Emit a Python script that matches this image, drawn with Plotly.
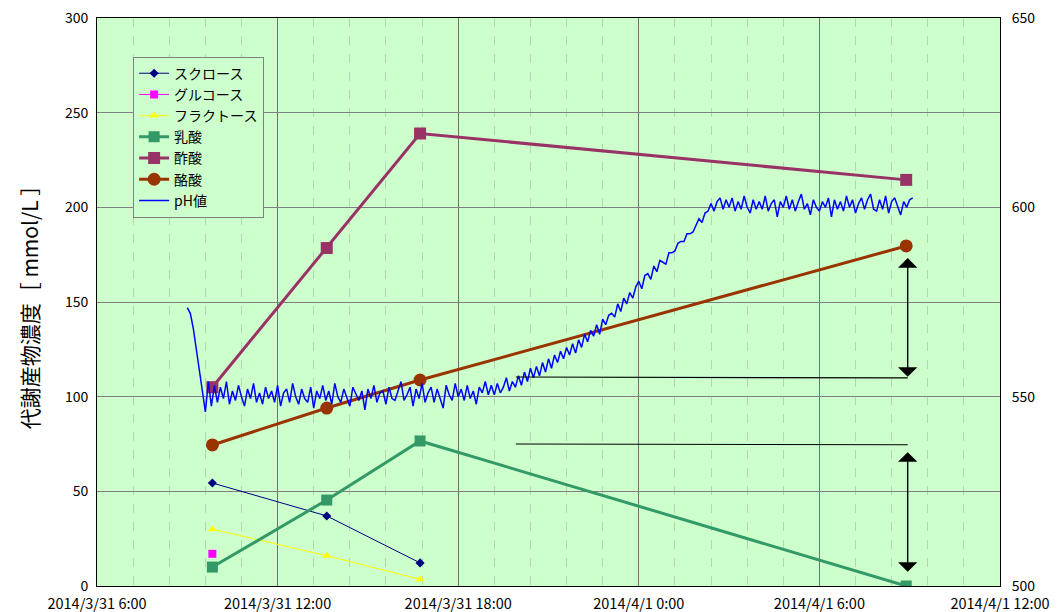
import pandas as pd
import plotly.graph_objects as go

# sampling times of the metabolite measurements
sample_times = ["2014-03-31 09:50", "2014-03-31 13:38", "2014-03-31 16:44", "2014-04-01 08:53"]

sucrose = [54.4, 37.0, 12.2]
glucose = [17.0]
fructose = [30.0, 16.0, 3.5]
lactic = [10.0, 45.4, 76.6, 0.0]
acetic = [105.0, 178.5, 239.0, 214.5]
butyric = [74.5, 94.0, 108.8, 179.6]

# pH logger (right axis), one reading every 6 minutes from 2014/3/31 9:00
ph_start = "2014-03-31 09:00"
ph_values = [
    573.5, 572.0, 568.0, 562.0, 556.0, 551.5, 546.0, 554.0, 547.5, 553.0,
    548.5, 552.5, 549.5, 554.0, 548.0, 551.5, 549.0, 553.0, 550.0, 547.5,
    552.0, 549.5, 553.5, 548.5, 551.0, 548.0, 552.5, 549.5, 551.5, 548.5,
    553.0, 547.5, 551.0, 552.0, 548.5, 553.5, 550.0, 548.0, 552.0, 549.5,
    548.5, 552.5, 547.0, 551.5, 549.5, 553.0, 549.0, 551.5, 548.0, 553.5,
    550.0, 548.5, 552.0, 549.5, 547.5, 552.5, 550.5, 549.0, 551.5, 546.5,
    552.0, 549.5, 553.0, 548.5, 551.0, 551.5, 548.0, 552.5, 549.5, 549.0,
    551.5, 554.0, 549.0, 550.5, 552.5, 547.5, 552.0, 549.5, 553.5, 548.5,
    551.0, 552.5, 548.5, 552.0, 549.5, 547.0, 553.0, 550.5, 549.0, 553.5,
    550.0, 552.0, 549.0, 553.0, 549.5, 551.5, 548.0, 552.5, 551.0, 554.0,
    550.5, 553.0, 550.5, 553.5, 551.0, 552.5, 555.0, 551.5, 554.0, 552.5,
    555.5, 553.0, 556.5, 554.0, 557.5, 555.0, 558.0, 555.5, 559.0, 556.5,
    560.0, 557.5, 561.0, 559.0, 562.0, 560.0, 563.0, 561.0, 564.0, 561.5,
    565.0, 563.0, 566.5, 564.5, 567.5, 566.0, 569.0, 566.5, 570.5, 569.0,
    571.5, 572.0, 571.0, 574.5, 572.5, 576.0, 574.5, 577.5, 576.0, 579.0,
    580.5, 578.5, 582.0, 582.5, 581.0, 584.5, 583.0, 586.0, 585.5, 585.0,
    588.0, 588.0, 588.5, 590.5, 591.0, 591.0, 593.0, 593.0, 593.5, 595.5,
    597.0, 596.0, 598.5, 599.0, 601.0, 599.0, 601.5, 602.5, 599.5, 602.0,
    600.0, 602.5, 599.0, 601.5, 599.5, 603.0, 600.0, 598.5, 602.0, 599.5,
    601.5, 599.5, 603.0, 599.0, 601.0, 602.0, 597.5, 601.5, 600.0, 603.0,
    599.5, 602.0, 599.0, 601.5, 603.5, 599.5, 601.0, 598.0, 602.0, 600.0,
    599.0, 601.5, 600.0, 602.5, 597.5, 602.0, 599.5, 601.5, 599.0, 603.0,
    600.0, 602.0, 598.5, 601.0, 602.5, 599.5, 602.0, 603.5, 599.5, 599.0,
    602.0, 599.5, 603.0, 598.5, 601.5, 602.5, 600.0, 598.0, 601.5, 600.0,
    602.0, 602.5,
]
ph_times = pd.date_range(ph_start, periods=len(ph_values), freq="6min")

x_ticks = ["2014-03-31 06:00", "2014-03-31 12:00", "2014-03-31 18:00",
           "2014-04-01 00:00", "2014-04-01 06:00", "2014-04-01 12:00"]
x_labels = ["2014/3/31 6:00", "2014/3/31 12:00", "2014/3/31 18:00",
            "2014/4/1 0:00", "2014/4/1 6:00", "2014/4/1 12:00"]

FONT = "Noto Sans CJK JP"

fig = go.Figure()

fig.add_trace(go.Scatter(x=sample_times[:3], y=sucrose, name="スクロース",
                         mode="lines+markers", line=dict(color="#000080", width=1),
                         marker=dict(symbol="diamond", size=7, color="#000080")))
fig.add_trace(go.Scatter(x=sample_times[:1], y=glucose, name="グルコース",
                         mode="lines+markers", line=dict(color="#FF00FF", width=1),
                         marker=dict(symbol="square", size=8, color="#FF00FF")))
fig.add_trace(go.Scatter(x=sample_times[:3], y=fructose, name="フラクトース",
                         mode="lines+markers", line=dict(color="#FFFF00", width=1),
                         marker=dict(symbol="triangle-up", size=8, color="#FFFF00")))
fig.add_trace(go.Scatter(x=sample_times, y=lactic, name="乳酸",
                         mode="lines+markers", line=dict(color="#339966", width=3),
                         marker=dict(symbol="square", size=11, color="#339966")))
fig.add_trace(go.Scatter(x=sample_times, y=acetic, name="酢酸",
                         mode="lines+markers", line=dict(color="#993366", width=3),
                         marker=dict(symbol="square", size=12, color="#993366")))
fig.add_trace(go.Scatter(x=sample_times, y=butyric, name="酪酸",
                         mode="lines+markers", line=dict(color="#993300", width=3),
                         marker=dict(symbol="circle", size=13, color="#993300")))
fig.add_trace(go.Scatter(x=ph_times, y=ph_values, name="pH値", yaxis="y2",
                         mode="lines", line=dict(color="#0000FF", width=1.5)))

# reference lines and double arrows
x_from, x_to = "2014-03-31 19:55", "2014-04-01 08:56"
for y0, y1 in [(110.4, 109.9), (75.0, 74.6)]:
    fig.add_shape(type="line", xref="x", yref="y", x0=x_from, x1=x_to, y0=y0, y1=y1,
                  line=dict(color="black", width=1.2))
for top, bottom in [(174.0, 110.5), (71.5, 7.5)]:
    fig.add_annotation(x=x_to, y=bottom, ax=x_to, ay=top, xref="x", yref="y",
                       axref="x", ayref="y", text="", showarrow=True,
                       arrowside="end+start", arrowhead=1, arrowsize=2.3,
                       arrowwidth=1.4, arrowcolor="black", standoff=0, startstandoff=0)

# the page body adds an 8px offset, so the figure is 8px smaller than the window
fig.update_layout(
    width=1050, height=604,
    margin=dict(l=89, r=58, t=10, b=26),
    paper_bgcolor="white",
    plot_bgcolor="#CCFFCC",
    font=dict(family=FONT, size=13, color="black"),
    showlegend=True,
    legend=dict(x=0.04, y=0.932, xanchor="left", yanchor="top",
                bgcolor="#CCFFCC", bordercolor="#808080", borderwidth=1,
                font=dict(size=14, family=FONT), tracegroupgap=0),
    xaxis=dict(range=["2014-03-31 06:00", "2014-04-01 12:00"], automargin=False,
               tickmode="array", tickvals=x_ticks, ticktext=x_labels,
               tickfont=dict(size=14.5), ticks="", ticklabelstandoff=5,
               ticklabeloverflow="allow",
               showline=True, linecolor="black", linewidth=1, mirror=True,
               showgrid=True, gridcolor="#707070", gridwidth=1,
               minor=dict(tick0="2014-03-31 06:00", dtick=72 * 60 * 1000, showgrid=True,
                          gridcolor="#B4D4B4", griddash="dash", gridwidth=1),
               zeroline=False),
    yaxis=dict(range=[0, 300], tickmode="array", tickvals=[0, 50, 100, 150, 200, 250, 300],
               tickfont=dict(size=14), ticks="", ticklabeloverflow="allow",
               automargin=False, ticklabelstandoff=5,
               showline=True, linecolor="black", linewidth=1,
               showgrid=True, gridcolor="#808080", gridwidth=1, zeroline=False,
               title=dict(text="代謝産物濃度［ mmol/L ］", font=dict(size=21), standoff=20)),
    yaxis2=dict(range=[500, 650], tickmode="array", tickvals=[500, 550, 600, 650],
                overlaying="y", side="right", ticklabeloverflow="allow",
                automargin=False, ticklabelstandoff=8,
                tickfont=dict(size=14), ticks="", showline=True, linecolor="black",
                linewidth=1, showgrid=False, zeroline=False),
)

fig.write_html("out.html")
